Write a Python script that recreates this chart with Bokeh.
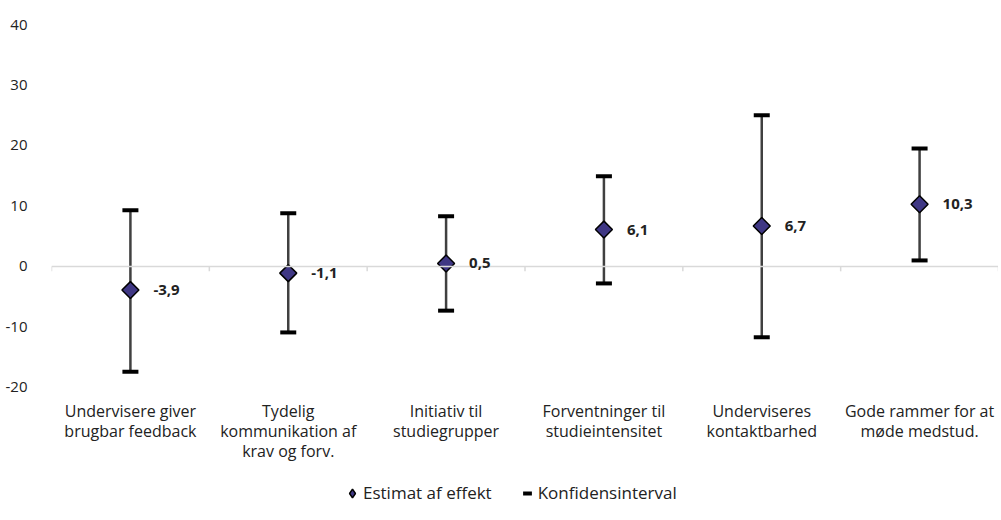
import math
from bokeh.plotting import figure
from bokeh.models import ColumnDataSource, FixedTicker, Span, Legend, LegendItem, Range1d, LabelSet
from bokeh.core.properties import value
from bokeh.embed import file_html
from bokeh.resources import INLINE

categories = ["Undervisere giver\nbrugbar feedback",
              "Tydelig\nkommunikation af\nkrav og forv.",
              "Initiativ til\nstudiegrupper",
              "Forventninger til\nstudieintensitet",
              "Underviseres\nkontaktbarhed",
              "Gode rammer for at\nmøde medstud."]
estimates = [-3.9, -1.1, 0.5, 6.1, 6.7, 10.3]
ci_upper = [9.3, 8.8, 8.3, 14.9, 25.0, 19.5]
ci_lower = [-17.4, -10.9, -7.3, -2.8, -11.7, 1.0]
y_ticks = [-20, -10, 0, 10, 20, 30, 40]
y_tick_labels = ["-20", "-10", "0", "10", "20", "30", "40"]

FONT = "Open Sans"
n = len(categories)
xs = [i + 0.5 for i in range(n)]
labels = [f"{v:.1f}".replace(".", ",") for v in estimates]

src = ColumnDataSource(dict(x=xs, est=estimates, hi=ci_upper, lo=ci_lower, lab=labels))

Y_TOP = 40
Y_BOTTOM = -40.5   # extra room below -20 for category labels and legend

p = figure(width=998, height=511, output_backend="svg", toolbar_location=None,
           x_range=Range1d(0, n), y_range=Range1d(Y_BOTTOM, Y_TOP),
           min_border_left=51, min_border_right=0, min_border_top=24, min_border_bottom=0)
p.outline_line_color = None
p.xgrid.visible = False
p.ygrid.visible = False
p.xaxis.visible = False

# y axis
p.yaxis.ticker = FixedTicker(ticks=y_ticks)
p.yaxis.major_label_overrides = {t: l for t, l in zip(y_ticks, y_tick_labels)}
p.yaxis.axis_line_color = None
p.yaxis.major_tick_line_color = None
p.yaxis.minor_tick_line_color = None
p.yaxis.major_label_standoff = 18
p.yaxis.major_label_text_font = FONT
p.yaxis.major_label_text_font_size = "15px"
p.yaxis.major_label_text_color = "#222222"

# category labels under the lowest tick
p.text(x=xs, y=[min(y_ticks) - 2.0] * n, text=categories, text_align="center", text_baseline="top",
       text_font=value(FONT), text_font_size="16px", text_color="#222222", text_line_height=0.91)

# zero line with category-boundary ticks
p.add_layout(Span(location=0, dimension="width", line_color="#d9d9d9", line_width=1.5))
bx = list(range(n + 1))
p.segment(x0=bx, y0=[0] * len(bx), x1=bx, y1=[-0.8] * len(bx), line_color="#d9d9d9", line_width=1.5)

# whiskers
p.segment(x0="x", y0="lo", x1="x", y1="hi", source=src, line_color="#404040", line_width=2.5)
caps_hi = p.scatter(x="x", y="hi", source=src, marker="dash", size=16, line_color="black", line_width=4)
caps_lo = p.scatter(x="x", y="lo", source=src, marker="dash", size=16, line_color="black", line_width=4)
pts = p.scatter(x="x", y="est", source=src, marker="square", angle=math.pi / 4, size=12,
                fill_color="#3f3784", line_color="black", line_width=1.5)
# hidden renderer used only so the legend shows a diamond symbol
legend_pt = p.scatter(x="x", y="est", source=src, marker="diamond", size=14, visible=False,
                      fill_color="#3f3784", line_color="black", line_width=1.5)

p.add_layout(LabelSet(x="x", y="est", text="lab", source=src, x_offset=23, y_offset=0,
                      text_baseline="middle", text_font=value(FONT), text_font_size="15px",
                      text_font_style="bold", text_color="#222222"))

legend = Legend(items=[LegendItem(label="Estimat af effekt", renderers=[legend_pt]),
                       LegendItem(label="Konfidensinterval", renderers=[caps_hi])],
                orientation="horizontal", location=(290, 7),
                label_text_font=FONT, label_text_font_size="17px", label_text_color="#222222",
                glyph_width=22, glyph_height=22, spacing=24, label_standoff=0,
                inactive_fill_alpha=0,
                border_line_color=None, background_fill_alpha=0, margin=0, padding=0)
p.add_layout(legend)

open("out.html", "w").write(file_html(p, INLINE))
